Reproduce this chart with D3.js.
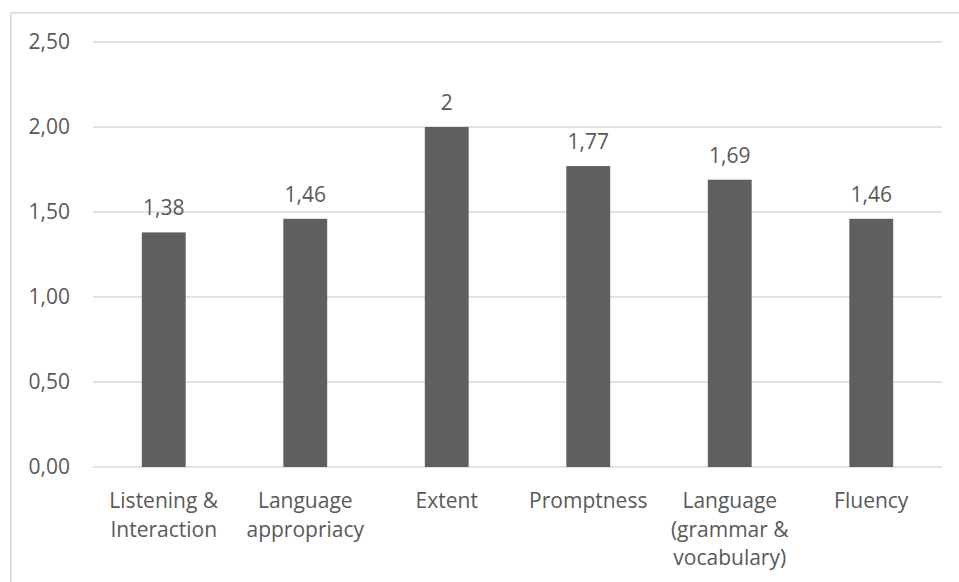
<!DOCTYPE html>
<html>
<head>
<meta charset="utf-8">
<script src="https://cdn.jsdelivr.net/npm/d3@7"></script>
<style>
  html, body { margin: 0; padding: 0; background: #fff; }
  svg { display: block; }
  text { font-family: "Open Sans", "Noto Sans", sans-serif; fill: #595959; }
</style>
</head>
<body>
<svg id="chart" width="959" height="582"></svg>
<script>
// Average ratings per speaking criterion
const categories = [
  ["Listening &", "Interaction"],
  ["Language", "appropriacy"],
  ["Extent"],
  ["Promptness"],
  ["Language", "(grammar &", "vocabulary)"],
  ["Fluency"]
];
const values = [1.38, 1.46, 2, 1.77, 1.69, 1.46];
const valueLabels = ["1,38", "1,46", "2", "1,77", "1,69", "1,46"];
const yTicks = [0, 0.5, 1, 1.5, 2, 2.5];

const W = 959, H = 582;
const margin = { left: 93, right: 17, top: 42, bottom: 115 };
const fontSize = 21;
const svg = d3.select("#chart");

// chart frame
svg.append("rect")
  .attr("x", 10.75).attr("y", 12.75)
  .attr("width", W + 20).attr("height", H + 20)
  .attr("fill", "none").attr("stroke", "#d9d9d9").attr("stroke-width", 1.5);

const x = d3.scaleBand()
  .domain(d3.range(categories.length))
  .range([margin.left, W - margin.right])
  .paddingInner(0.69).paddingOuter(0.345);

const y = d3.scaleLinear()
  .domain([0, 2.5])
  .range([H - margin.bottom, margin.top]);

const fmt = d => d3.format(".2f")(d).replace(".", ",");

// horizontal gridlines
svg.append("g").selectAll("line")
  .data(yTicks)
  .join("line")
  .attr("x1", margin.left).attr("x2", W - margin.right)
  .attr("y1", d => y(d)).attr("y2", d => y(d))
  .attr("stroke", "#d9d9d9").attr("stroke-width", 1.3);

// y axis labels
const yAxis = d3.axisLeft(y).tickValues(yTicks).tickFormat(fmt).tickSize(0).tickPadding(0);
const gy = svg.append("g").attr("transform", `translate(70,0)`).call(yAxis);
gy.select(".domain").remove();
gy.selectAll("text")
  .attr("font-size", fontSize).attr("fill", "#595959")
  .style("font-family", '"Open Sans", sans-serif');

// bars
svg.append("g").selectAll("rect")
  .data(values)
  .join("rect")
  .attr("x", (d, i) => x(i))
  .attr("width", x.bandwidth())
  .attr("y", d => y(d))
  .attr("height", d => y(0) - y(d))
  .attr("fill", "#5f5f5f");

// value labels
svg.append("g").selectAll("text")
  .data(values)
  .join("text")
  .attr("x", (d, i) => x(i) + x.bandwidth() / 2)
  .attr("y", d => y(d) - 17)
  .attr("text-anchor", "middle")
  .attr("font-size", fontSize)
  .text((d, i) => valueLabels[i]);

// category labels
const cat = svg.append("g").selectAll("text")
  .data(categories)
  .join("text")
  .attr("x", (d, i) => x(i) + x.bandwidth() / 2)
  .attr("y", 508)
  .attr("text-anchor", "middle")
  .attr("font-size", fontSize);
cat.selectAll("tspan")
  .data(d => d)
  .join("tspan")
  .attr("x", function () { return this.parentNode.getAttribute("x"); })
  .attr("dy", (d, i) => i === 0 ? 0 : 28.5)
  .text(d => d);
</script>
</body>
</html>
